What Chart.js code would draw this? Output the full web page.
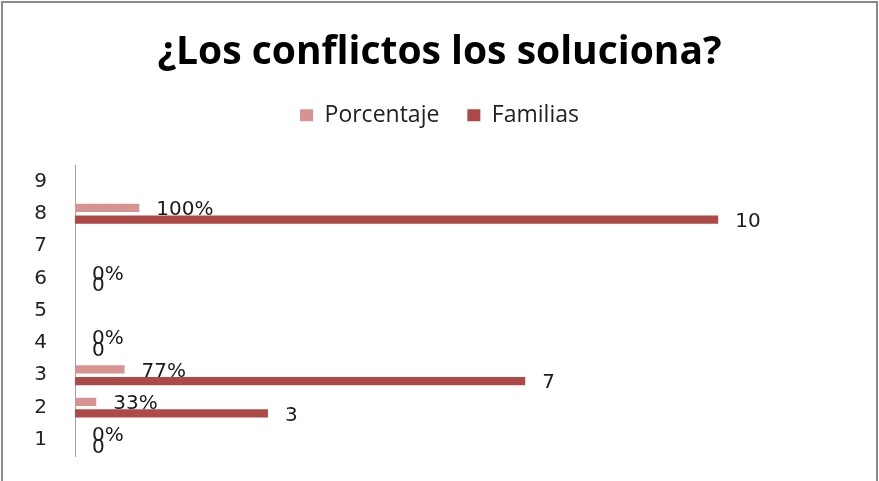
<!DOCTYPE html>
<html lang="es">
<head>
  <meta charset="UTF-8" />
  <title>¿Los conflictos los soluciona?</title>
  <script src="https://cdn.jsdelivr.net/npm/chart.js"></script>
  <style>
    body { margin: 0; background: #fff; }
    #wrap { position: relative; width: 879px; height: 481px; }
    #chart { display: block; }
    #frame {
      position: absolute; left: 1px; top: 1px; width: 877px; height: 490px;
      box-sizing: border-box; border: 2px solid #8a8a8a; border-bottom: none;
      pointer-events: none;
    }
  </style>
</head>
<body>
  <div id="wrap">
    <canvas id="chart" width="879" height="481"></canvas>
    <div id="frame"></div>
  </div>

  <script>
    const categories = ['1', '2', '3', '4', '5', '6', '7', '8', '9'];
    const porcentaje = [0, 0.33, 0.77, 0, null, 0, null, 1.0, null];
    const familias = [0, 3, 7, 0, null, 0, null, 10, null];

    // value labels drawn just past the end of each bar
    const barLabels = {
      id: 'barLabels',
      afterDatasetsDraw(chart) {
        const ctx = chart.ctx;
        ctx.save();
        ctx.font = '20px "DejaVu Sans"';
        ctx.fillStyle = '#1a1a1a';
        ctx.textAlign = 'left';
        ctx.textBaseline = 'middle';
        chart.data.datasets.forEach((ds, i) => {
          const meta = chart.getDatasetMeta(i);
          meta.data.forEach((bar, j) => {
            const v = ds.data[j];
            if (v === null || v === undefined) return;
            const txt = i === 0 ? Math.round(v * 100) + '%' : String(v);
            ctx.fillText(txt, bar.x + 17, bar.y + 2);
          });
        });
        ctx.restore();
      }
    };

    new Chart(document.getElementById('chart'), {
      type: 'bar',
      data: {
        labels: categories,
        datasets: [
          { label: 'Porcentaje', data: porcentaje, backgroundColor: '#d79391' },
          { label: 'Familias', data: familias, backgroundColor: '#ad4a47' }
        ]
      },
      options: {
        indexAxis: 'y',
        responsive: false,
        animation: false,
        categoryPercentage: 0.714,
        barPercentage: 0.715,
        layout: { autoPadding: false, padding: { left: 0, right: 0, top: 29, bottom: 25 } },
        plugins: {
          title: {
            display: true,
            text: '¿Los conflictos los soluciona?',
            color: '#000',
            font: { family: '"Open Sans"', size: 39, weight: 'bold' },
            padding: { top: 0, bottom: 0 }
          },
          legend: {
            position: 'top',
            labels: {
              boxWidth: 13,
              boxHeight: 12,
              padding: 28,
              color: '#222',
              font: { family: '"Open Sans"', size: 23 }
            }
          },
          tooltip: { enabled: false }
        },
        scales: {
          // hidden value axis; placed on top only to keep the gap under the legend
          x: {
            position: 'top',
            min: 0,
            max: 12.5,
            grid: { display: false, drawTicks: false },
            border: { display: false },
            ticks: { display: false },
            afterFit(scale) { scale.height = 28.5; }
          },
          y: {
            reverse: true,
            grid: { display: false, drawTicks: false },
            border: { color: '#a0a0a0', width: 1 },
            ticks: {
              color: '#222',
              padding: 28,
              font: { family: '"DejaVu Sans"', size: 20 }
            },
            afterFit(scale) {
              scale.width = 75;
              scale.paddingTop = 0;
              scale.paddingBottom = 0;
            }
          }
        }
      },
      plugins: [barLabels]
    });
  </script>
</body>
</html>
